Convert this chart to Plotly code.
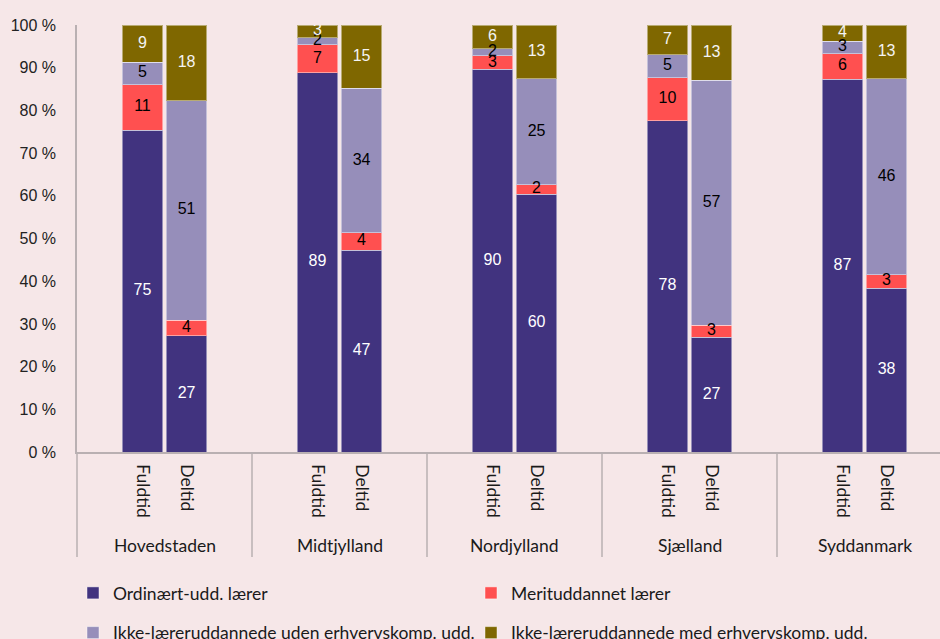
import plotly.graph_objects as go

regions = ["Hovedstaden", "Midtjylland", "Nordjylland", "Sjælland", "Syddanmark"]
types = ["Fuldtid", "Deltid"]
yticks = [0, 10, 20, 30, 40, 50, 60, 70, 80, 90, 100]

# values ordered: region1 Fuldtid, region1 Deltid, region2 Fuldtid, ...
ordinaert = [75.4, 27.2, 88.8, 47.3, 89.6, 60.4, 77.6, 26.9, 87.3, 38.4]
merit = [10.6, 3.7, 6.6, 4.0, 3.2, 2.2, 10.1, 2.8, 6.0, 3.1]
uden = [5.3, 51.4, 1.6, 33.9, 1.6, 24.8, 5.3, 57.4, 2.9, 45.9]
med = [8.7, 17.7, 3.0, 14.8, 5.6, 12.6, 7.0, 12.9, 3.8, 12.6]

series = [
    ("Ordinært-udd. lærer", ordinaert, "#41337f", "#ffffff", "legend"),
    ("Merituddannet lærer", merit, "#ff5050", "#000000", "legend2"),
    ("Ikke-læreruddannede uden erhvervskomp. udd.", uden, "#968eba", "#000000", "legend"),
    ("Ikke-læreruddannede med erhvervskomp. udd.", med, "#7f6700", "#f4f4f4", "legend2"),
]

BG = "#f6e7e8"
LINE = "#b9b0b2"
LABEL_FONT = "Lato, Carlito, Calibri, sans-serif"
NUM_FONT = "Liberation Sans, Arial, sans-serif"

off = 0.126
xpos = [i + s * off for i in range(len(regions)) for s in (-1, 1)]
xtext = [t for _ in regions for t in types]

fig = go.Figure()
for k, (name, vals, col, tcol, leg) in enumerate(series):
    fig.add_trace(go.Bar(
        x=xpos, y=vals, name=name, width=0.233,
        marker=dict(color=col, line=dict(color="rgba(255,255,255,0.45)", width=1)),
        legend=leg, legendgroup=f"g{k}",
        hoverinfo="skip",
    ))

# value labels on top of all bars (centred in each segment)
base = [0.0] * len(xpos)
for k, (name, vals, col, tcol, leg) in enumerate(series):
    mids = [b + v / 2 for b, v in zip(base, vals)]
    fig.add_trace(go.Scatter(
        x=xpos, y=mids, mode="text", text=[f"{v:.0f}" for v in vals],
        textposition="middle center",
        textfont=dict(family=NUM_FONT, size=16, color=tcol),
        showlegend=False, hoverinfo="skip", cliponaxis=True,
    ))
    base = [b + v for b, v in zip(base, vals)]

shapes = []
shapes.append(dict(type="line", xref="paper", yref="paper", x0=0, x1=0, y0=0, y1=-0.246,
                   line=dict(color=LINE, width=1.5)))
for i in range(1, len(regions)):
    shapes.append(dict(type="line", xref="x", yref="paper", x0=i - 0.5, x1=i - 0.5,
                       y0=0, y1=-0.246, line=dict(color=LINE, width=1.5)))

annotations = []
for i, r in enumerate(regions):
    annotations.append(dict(x=i, y=-0.220, xref="x", yref="paper", text=r, showarrow=False,
                            xanchor="center", yanchor="middle",
                            font=dict(family=LABEL_FONT, size=17.5, color="#1a1a1a")))

legend_common = dict(xref="container", yref="container", xanchor="left", yanchor="top",
                     orientation="v", traceorder="grouped", tracegroupgap=14,
                     bgcolor="rgba(0,0,0,0)",
                     font=dict(family=LABEL_FONT, size=17.5, color="#1a1a1a"))

fig.update_layout(
    width=940, height=639, autosize=False,
    margin=dict(l=77, r=0, t=25, b=187, autoexpand=False),
    paper_bgcolor=BG, plot_bgcolor=BG,
    barmode="stack",
    shapes=shapes, annotations=annotations,
    legend=dict(x=73 / 940, y=1 - 575 / 639, **legend_common),
    legend2=dict(x=471 / 940, y=1 - 575 / 639, **legend_common),
)

fig.update_xaxes(
    range=[-0.5, (940 - 77) / 175 - 0.5],
    tickmode="array", tickvals=xpos, ticktext=xtext, tickangle=90,
    ticks="", ticklabelstandoff=7,
    tickfont=dict(family=LABEL_FONT, size=17.5, color="#1a1a1a"),
    showline=True, linecolor=LINE, linewidth=1.5, showgrid=False, zeroline=False,
)
fig.update_yaxes(
    range=[0, 100], tickmode="array", tickvals=yticks,
    ticktext=[f"{v} %" for v in yticks],
    ticks="", ticklabelstandoff=16,
    tickfont=dict(family=NUM_FONT, size=16, color="#222222"),
    showline=True, linecolor=LINE, linewidth=1.5, showgrid=False, zeroline=False,
)

fig.write_html("out.html", config={"displayModeBar": False},
               post_script="document.body.style.margin='0';")
